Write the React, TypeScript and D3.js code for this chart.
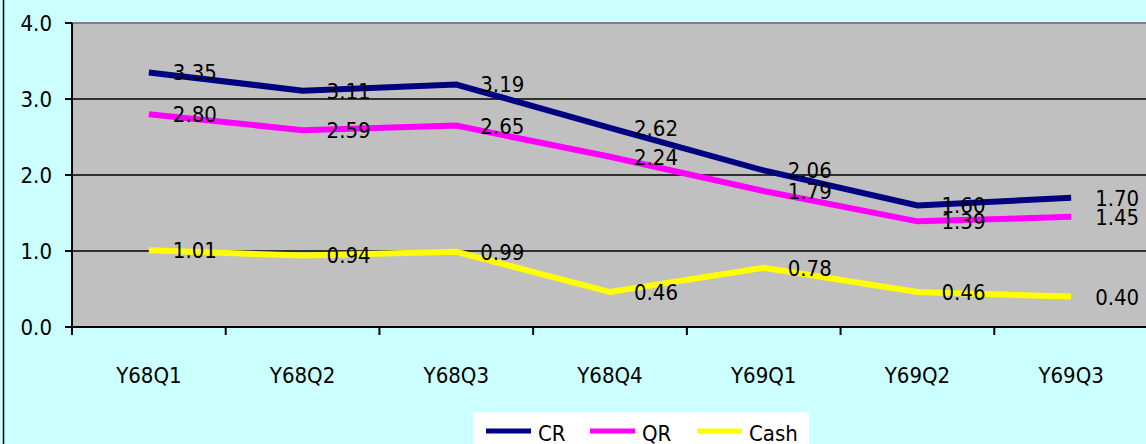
import React from "react";
import * as d3 from "d3";

const categories = ["Y68Q1", "Y68Q2", "Y68Q3", "Y68Q4", "Y69Q1", "Y69Q2", "Y69Q3"];
const crValues = [3.35, 3.11, 3.19, 2.62, 2.06, 1.6, 1.7];
const qrValues = [2.8, 2.59, 2.65, 2.24, 1.79, 1.39, 1.45];
const cashValues = [1.01, 0.94, 0.99, 0.46, 0.78, 0.46, 0.4];
const yTicks = [0, 1, 2, 3, 4];
const seriesNames = ["CR", "QR", "Cash"];

const W = 1146;
const H = 444;
const FONT = "'DejaVu Sans Condensed', 'DejaVu Sans', sans-serif";

export default function App() {
  const left = 72;
  const plotW = 1076;
  const top = 23;
  const bottom = 327;
  const x = d3.scaleBand<string>().domain(categories).range([left, left + plotW]).padding(0);
  const y = d3.scaleLinear().domain([0, 4]).range([bottom, top]);
  const cx = (c: string) => (x(c) as number) + x.bandwidth() / 2;

  const series = [
    { name: seriesNames[0], values: crValues, color: "#000080" },
    { name: seriesNames[1], values: qrValues, color: "#FF00FF" },
    { name: seriesNames[2], values: cashValues, color: "#FFFF00" },
  ];
  const line = d3
    .line<number>()
    .x((_, i) => cx(categories[i]))
    .y((v) => y(v));

  const legendX = [486, 590, 697];

  return (
    <div style={{ position: "fixed", left: 0, top: 0 }}>
      <svg width={W} height={H} style={{ display: "block", fontFamily: FONT, fontStretch: "condensed" }}>
        <rect x={0} y={0} width={W} height={H} fill="#CCFFFF" />
        <line x1={3.5} x2={3.5} y1={0} y2={H} stroke="#000" strokeWidth={1.5} />
        <rect x={left} y={top} width={plotW} height={bottom - top} fill="#C0C0C0" />
        <line x1={left} x2={W} y1={top} y2={top} stroke="#808080" strokeWidth={2} />
        {yTicks.filter((t) => t > 0 && t < 4).map((t) => (
          <line key={t} x1={left} x2={W} y1={y(t)} y2={y(t)} stroke="#000" strokeWidth={1.5} />
        ))}
        <line x1={left} x2={left} y1={top} y2={bottom + 8} stroke="#000" strokeWidth={2} />
        <line x1={left} x2={W} y1={bottom} y2={bottom} stroke="#000" strokeWidth={2} />
        {yTicks.map((t) => (
          <g key={t}>
            <line x1={left - 7} x2={left} y1={y(t)} y2={y(t)} stroke="#000" strokeWidth={2} />
            <text x={52} y={y(t)} dy="0.36em" textAnchor="end" fontSize={22} fill="#000">
              {t.toFixed(1)}
            </text>
          </g>
        ))}
        {categories.map((c, i) => (
          <g key={c}>
            <line x1={x(c) as number} x2={x(c) as number} y1={bottom} y2={bottom + 8} stroke="#000" strokeWidth={2} />
            <text x={cx(c)} y={375} dy="0.36em" textAnchor="middle" fontSize={22} fill="#000">
              {c}
            </text>
          </g>
        ))}
        {series.map((s) => (
          <path key={s.name} d={line(s.values) || ""} fill="none" stroke={s.color} strokeWidth={6} />
        ))}
        {series.map((s) =>
          s.values.map((v, i) => (
            <text
              key={s.name + i}
              x={cx(categories[i]) + 24}
              y={y(v)}
              dy="0.36em"
              fontSize={22}
              fill="#000"
            >
              {v.toFixed(2)}
            </text>
          ))
        )}
        <rect x={473} y={412} width={336} height={40} fill="#FFFFFF" />
        {series.map((s, i) => (
          <g key={"lg" + s.name}>
            <line x1={legendX[i]} x2={legendX[i] + 45} y1={431} y2={431} stroke={s.color} strokeWidth={5} />
            <text x={legendX[i] + 52} y={441} fontSize={22} fill="#000">
              {s.name}
            </text>
          </g>
        ))}
      </svg>
    </div>
  );
}
